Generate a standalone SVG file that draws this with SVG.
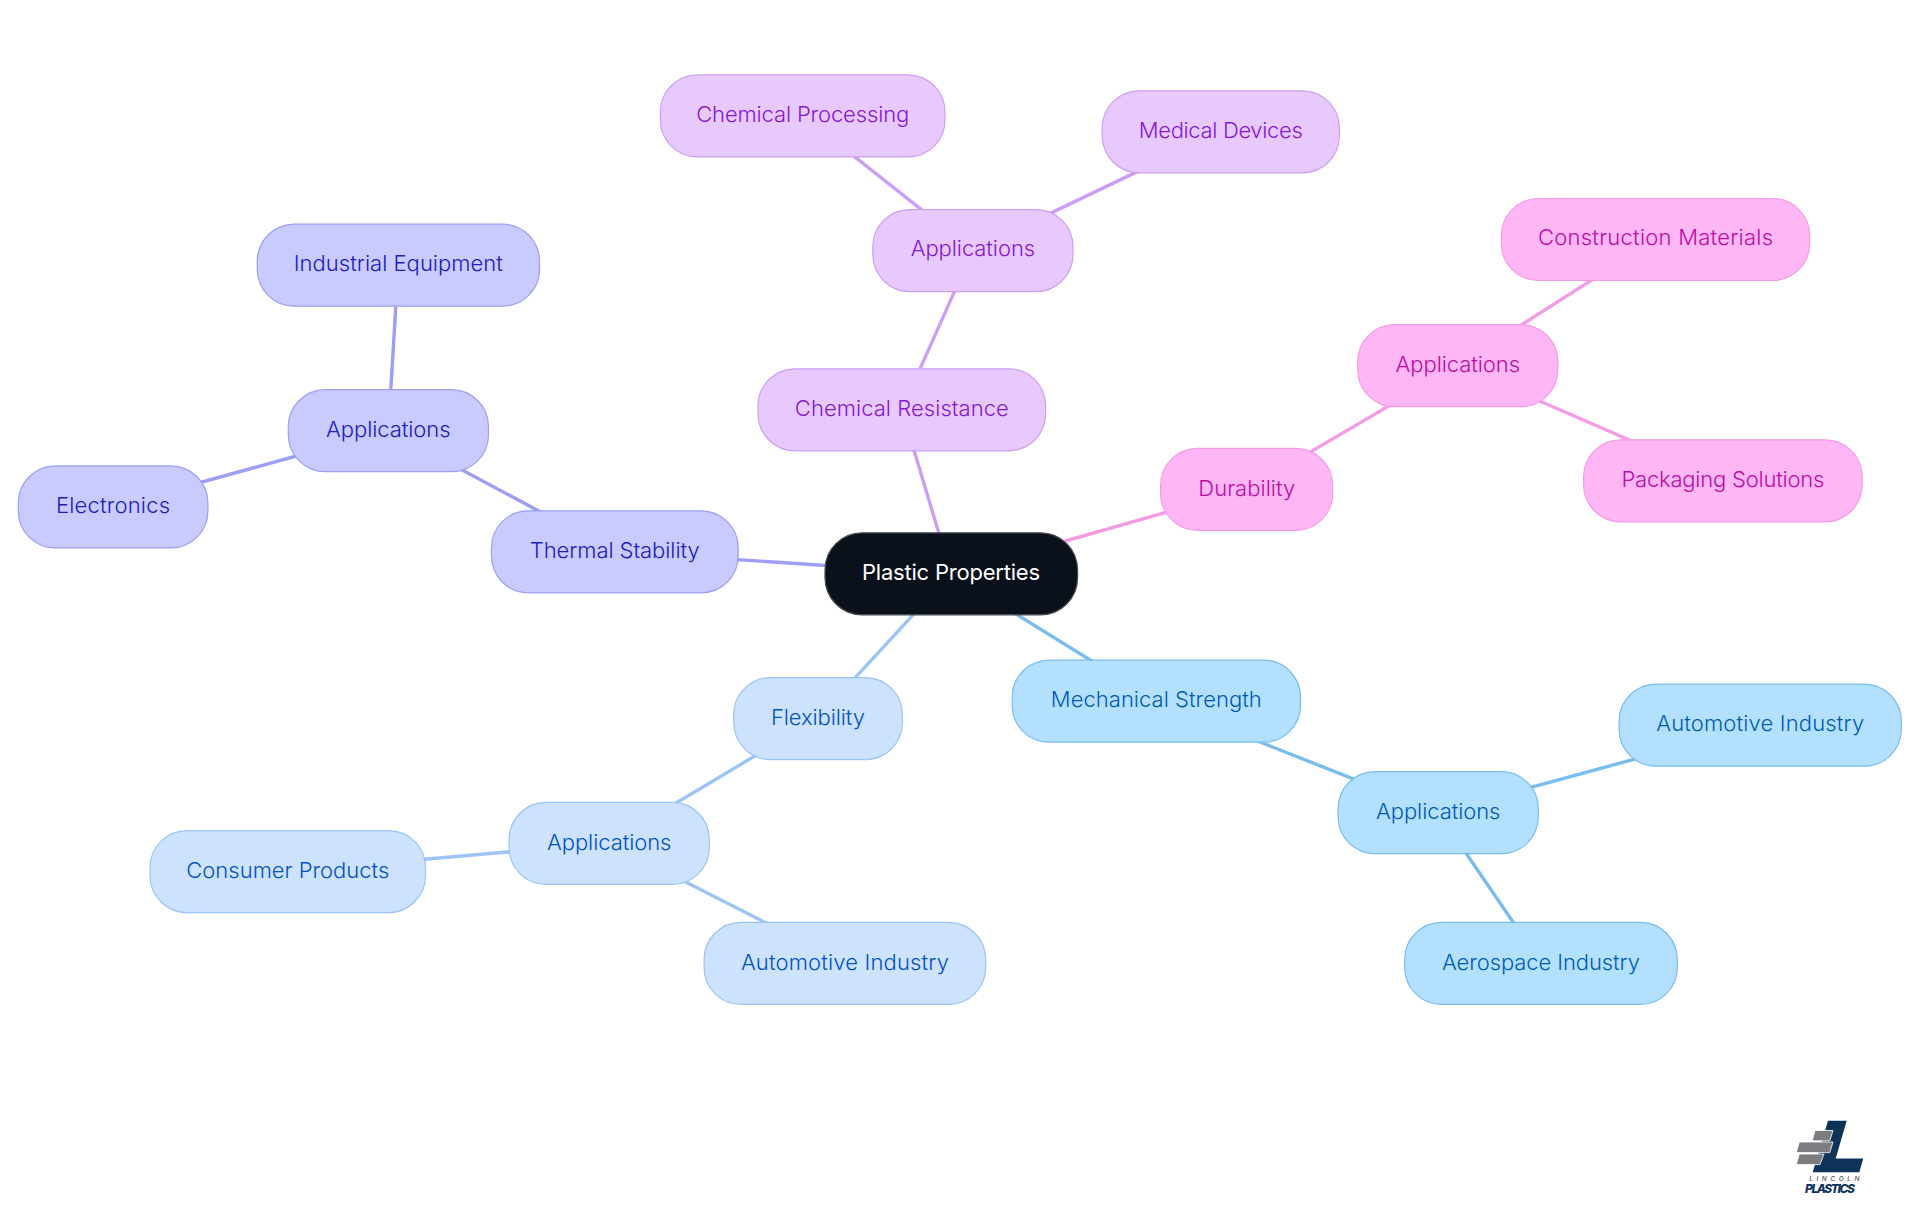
<svg xmlns="http://www.w3.org/2000/svg" width="1920" height="1215" viewBox="0 0 1920 1215">
<style>
text{font-family:"Inter","Noto Sans",sans-serif;font-size:22px;font-weight:300;text-anchor:middle}
.n rect{stroke-width:1.2}
.c line{stroke-width:3.4;fill:none}
.blue rect{fill:#b3e0ff;stroke:#78bdf0}.blue text{fill:#005cb2}
.sky rect{fill:#cde2fd;stroke:#9cc4f5}.sky text{fill:#0053c2}
.ind rect{fill:#c9cafd;stroke:#9c9ff3}.ind text{fill:#2020bb}
.pur rect{fill:#e7c9fd;stroke:#cc9ff4}.pur text{fill:#8518d0}
.pin rect{fill:#feb6f4;stroke:#f59be6}.pin text{fill:#bb0ca5}
.brick{fill:#7b7d80;stroke:#fff;stroke-width:.8}
</style>
<rect width="1920" height="1215" fill="#fff"/>
<g id="connectors" class="c">
<g stroke="#9c9ff3"><line x1="951" y1="573.7" x2="614.7" y2="551.6"/><line x1="614.7" y1="551.6" x2="388.3" y2="430.5"/><line x1="388.3" y1="430.5" x2="398.3" y2="265"/><line x1="388.3" y1="430.5" x2="113" y2="506.7"/></g>
<g stroke="#cc9ff4"><line x1="951" y1="573.7" x2="901.8" y2="409.6"/><line x1="901.8" y1="409.6" x2="972.9" y2="250.4"/><line x1="972.9" y1="250.4" x2="802.7" y2="115.7"/><line x1="972.9" y1="250.4" x2="1220.8" y2="131.6"/></g>
<g stroke="#f59be6"><line x1="951" y1="573.7" x2="1246.8" y2="489.2"/><line x1="1246.8" y1="489.2" x2="1457.8" y2="365.5"/><line x1="1457.8" y1="365.5" x2="1655.5" y2="239.4"/><line x1="1457.8" y1="365.5" x2="1722.9" y2="480.6"/></g>
<g stroke="#9cc4f5"><line x1="951" y1="573.7" x2="818" y2="718.2"/><line x1="818" y1="718.2" x2="609.2" y2="843"/><line x1="609.2" y1="843" x2="287.8" y2="871.2"/><line x1="609.2" y1="843" x2="844.9" y2="963"/></g>
<g stroke="#78bdf0"><line x1="951" y1="573.7" x2="1156.3" y2="701"/><line x1="1156.3" y1="701" x2="1438.2" y2="812.5"/><line x1="1438.2" y1="812.5" x2="1760.2" y2="725"/><line x1="1438.2" y1="812.5" x2="1541" y2="963"/></g>
</g>
<g id="root" class="n"><rect x="825" y="532.8" width="252.6" height="82" rx="37" fill="#0b111a" stroke="#4a4d52"/><text x="951" y="579.8" fill="#fff" style="font-weight:400" textLength="178">Plastic Properties</text></g>
<g id="thermal" class="n ind"><rect x="491.4" y="510.8" width="246.8" height="82" rx="37"/><text x="614.7" y="557.8" textLength="170">Thermal Stability</text></g>
<g id="thermal-apps" class="n ind"><rect x="288.3" y="389.7" width="200.2" height="82" rx="37"/><text x="388.3" y="436.7" textLength="124.5">Applications</text></g>
<g id="industrial" class="n ind"><rect x="257.3" y="224.2" width="282.2" height="82" rx="37"/><text x="398.3" y="271.2" textLength="209">Industrial Equipment</text></g>
<g id="electronics" class="n ind"><rect x="18.3" y="465.9" width="189.6" height="82" rx="37"/><text x="113" y="512.9" textLength="114">Electronics</text></g>
<g id="chem" class="n pur"><rect x="758" y="368.8" width="287.6" height="82" rx="37"/><text x="901.8" y="415.8" textLength="214">Chemical Resistance</text></g>
<g id="chem-apps" class="n pur"><rect x="872.8" y="209.6" width="200.2" height="82" rx="37"/><text x="972.9" y="256.4" textLength="124.5">Applications</text></g>
<g id="chem-proc" class="n pur"><rect x="660.4" y="74.9" width="284.6" height="82" rx="37"/><text x="802.7" y="121.7" textLength="213">Chemical Processing</text></g>
<g id="medical" class="n pur"><rect x="1102.2" y="90.8" width="237.2" height="82" rx="37"/><text x="1220.8" y="137.8" textLength="164">Medical Devices</text></g>
<g id="durability" class="n pin"><rect x="1160.6" y="448.4" width="172" height="82" rx="37"/><text x="1246.8" y="495.5" textLength="97">Durability</text></g>
<g id="dur-apps" class="n pin"><rect x="1357.7" y="324.7" width="200.2" height="82" rx="37"/><text x="1457.8" y="371.7" textLength="124.5">Applications</text></g>
<g id="construction" class="n pin"><rect x="1501.4" y="198.5" width="308.2" height="82" rx="37"/><text x="1655.5" y="245.4" textLength="235">Construction Materials</text></g>
<g id="packaging" class="n pin"><rect x="1583.6" y="439.8" width="278.6" height="82" rx="37"/><text x="1722.9" y="486.8" textLength="203">Packaging Solutions</text></g>
<g id="flex" class="n sky"><rect x="733.7" y="677.6" width="168.7" height="82" rx="37"/><text x="818" y="725" textLength="94">Flexibility</text></g>
<g id="flex-apps" class="n sky"><rect x="509.1" y="802.4" width="200.2" height="82" rx="37"/><text x="609.2" y="849.8" textLength="124.5">Applications</text></g>
<g id="consumer" class="n sky"><rect x="150" y="830.6" width="275.6" height="82" rx="37"/><text x="287.8" y="878" textLength="203">Consumer Products</text></g>
<g id="auto-f" class="n sky"><rect x="704.1" y="922.4" width="281.6" height="82" rx="37"/><text x="844.9" y="969.8" textLength="208">Automotive Industry</text></g>
<g id="mech" class="n blue"><rect x="1012.2" y="660.2" width="288.3" height="82" rx="37"/><text x="1156.3" y="707" textLength="211">Mechanical Strength</text></g>
<g id="mech-apps" class="n blue"><rect x="1338.1" y="771.7" width="200.2" height="82" rx="37"/><text x="1438.2" y="818.7" textLength="124.5">Applications</text></g>
<g id="auto-m" class="n blue"><rect x="1619.1" y="684.2" width="282.2" height="82" rx="37"/><text x="1760.2" y="731" textLength="208">Automotive Industry</text></g>
<g id="aero" class="n blue"><rect x="1404.7" y="922.4" width="272.6" height="82" rx="37"/><text x="1541" y="969.8" textLength="198">Aerospace Industry</text></g>
<g id="logo">
<polygon points="1828,1120.7 1846.7,1120.7 1835.7,1158.5 1863.3,1158.5 1859.3,1172.3 1812.7,1172.3" fill="#0e3358"/>
<polygon class="brick" points="1815,1130.5 1833,1130.5 1829.8,1140.8 1812.2,1140.8"/>
<polygon class="brick" points="1799.3,1142 1833,1142 1829.8,1152.6 1796.3,1152.6"/>
<polygon class="brick" points="1799.3,1154 1824,1154 1820,1164.6 1796.3,1164.6"/>
<text x="1834.3" y="1180.8" fill="#555" style="font-size:6.5px;font-style:italic;font-weight:500" textLength="50">LINCOLN</text>
<text x="1830" y="1192.5" fill="#0e3358" style="font-size:12px;font-weight:800;font-style:italic" textLength="50">PLASTICS</text>
</g>
</svg>
